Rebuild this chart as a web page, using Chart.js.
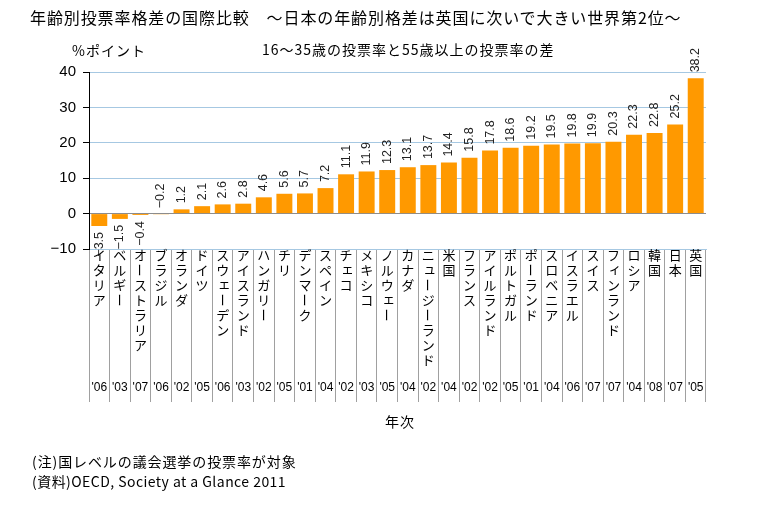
<!DOCTYPE html>
<html><head><meta charset="utf-8">
<script src="https://cdn.jsdelivr.net/npm/chart.js@4"></script>
<style>
html,body{margin:0;padding:0;background:#fff;}
#wrap{position:relative;width:778px;height:506px;overflow:hidden;font-family:"Noto Sans CJK JP","Noto Sans",sans-serif;color:#000;}
.t{position:absolute;white-space:nowrap;line-height:1;}
canvas{position:absolute;left:0;top:0;}
</style></head><body>
<div id="wrap">
<canvas id="c" width="778" height="506"></canvas>
<div class="t" style="left:30px;top:9px;font-size:16px;letter-spacing:0.9px;">年齢別投票率格差の国際比較　～日本の年齢別格差は英国に次いで大きい世界第2位～</div>
<div class="t" style="left:262px;top:42px;font-size:14px;letter-spacing:1px;">16～35歳の投票率と55歳以上の投票率の差</div>
<div class="t" style="left:72px;top:43px;font-size:14px;letter-spacing:1px;">%ポイント</div>
<div class="t" style="left:385px;top:414px;font-size:14px;letter-spacing:1px;">年次</div>
<div class="t" style="left:32px;top:454px;font-size:14px;letter-spacing:0.9px;">(注)国レベルの議会選挙の投票率が対象</div>
<div class="t" style="left:32px;top:474px;font-size:14px;letter-spacing:0.45px;">(資料)OECD, Society at a Glance 2011</div>
</div>
<script>
const categories = ["イタリア","ベルギー","オーストラリア","ブラジル","オランダ","ドイツ","スウェーデン","アイスランド","ハンガリー","チリ","デンマーク","スペイン","チェコ","メキシコ","ノルウェー","カナダ","ニュージーランド","米国","フランス","アイルランド","ポルトガル","ポーランド","スロベニア","イスラエル","スイス","フィンランド","ロシア","韓国","日本","英国"];
const years = ["'06","'03","'07","'06","'02","'05","'06","'03","'02","'05","'01","'04","'02","'03","'05","'04","'02","'04","'02","'02","'05","'01","'04","'06","'07","'07","'04","'08","'07","'05"];
const gapValues = [-3.5,-1.5,-0.4,-0.2,1.2,2.1,2.6,2.8,4.6,5.6,5.7,7.2,11.1,11.9,12.3,13.1,13.7,14.4,15.8,17.8,18.6,19.2,19.5,19.8,19.9,20.3,22.3,22.8,25.2,38.2];
const yTicks = [-10,0,10,20,30,40];

const fmt = v => (v < 0 ? "\u2212" : "") + Math.abs(v).toFixed(1);

const labelPlugin = {
  id: 'customLabels',
  afterDraw(chart) {
    const ctx = chart.ctx;
    const meta = chart.getDatasetMeta(0);
    const xs = chart.scales.x;
    const area = chart.chartArea;
    ctx.save();
    // value labels (rotated)
    ctx.fillStyle = '#222';
    ctx.font = '12.5px "Liberation Sans", Arial, sans-serif';
    ctx.textBaseline = 'middle';
    meta.data.forEach((bar, i) => {
      const v = gapValues[i];
      ctx.save();
      ctx.translate(bar.x, bar.y);
      ctx.rotate(-Math.PI / 2);
      if (v <= -0.3) {
        ctx.textAlign = 'right';
        ctx.fillText(fmt(v), -6, 0);
      } else {
        ctx.textAlign = 'left';
        ctx.fillText(fmt(v), 6, 0);
      }
      ctx.restore();
    });
    // category labels (vertical)
    ctx.fillStyle = '#000';
    ctx.font = '13px "Noto Sans CJK JP", sans-serif';
    ctx.textAlign = 'center';
    ctx.textBaseline = 'middle';
    categories.forEach((name, i) => {
      const cx = xs.getPixelForValue(i);
      [...name].forEach((ch, j) => {
        const cy = area.bottom + 6 + 15 * j;
        if (ch === 'ー') {
          ctx.save();
          ctx.translate(cx, cy);
          ctx.rotate(Math.PI / 2);
          ctx.fillText(ch, 0, 0);
          ctx.restore();
        } else if ('ュェィャョッ'.includes(ch)) {
          ctx.fillText(ch, cx + 1.5, cy - 2);
        } else {
          ctx.fillText(ch, cx, cy);
        }
      });
    });
    // years
    ctx.font = '12px "Liberation Sans", Arial, sans-serif';
    years.forEach((yr, i) => {
      ctx.fillText(yr, xs.getPixelForValue(i), area.bottom + 139);
    });
    ctx.restore();
  }
};

new Chart(document.getElementById('c'), {
  type: 'bar',
  data: {
    labels: categories,
    datasets: [{
      data: gapValues,
      backgroundColor: '#FF9900',
      borderWidth: 0,
      barPercentage: 0.8,
      categoryPercentage: 0.97
    }]
  },
  options: {
    responsive: false,
    animation: false,
    layout: { padding: { left: 39, right: 72, top: 72, bottom: 104 } },
    plugins: { legend: { display: false }, tooltip: { enabled: false } },
    scales: {
      x: {
        offset: true,
        ticks: { display: false },
        grid: { offset: true, drawOnChartArea: false, drawTicks: true, tickLength: 153, color: '#a0a0a0', tickColor: '#a0a0a0' },
        border: { display: true, color: '#a6c8e2' },
        afterFit(s) { s.height = 153; }
      },
      y: {
        min: -10, max: 40,
        afterBuildTicks(s) { s.ticks = yTicks.map(v => ({ value: v })); },
        ticks: {
          color: '#000',
          padding: 7,
          font: { size: 15, family: '"Liberation Sans", Arial, sans-serif' },
          callback: v => (v < 0 ? "\u2212" : "") + Math.abs(v)
        },
        grid: {
          tickLength: 6,
          color: c => (c.tick && c.tick.value === 0) ? '#8c8c8c' : '#a6c8e2',
          tickColor: '#000'
        },
        border: { display: true, color: '#000' },
        afterFit(s) { s.width = 50; }
      }
    }
  },
  plugins: [labelPlugin]
});
</script>
</body></html>
